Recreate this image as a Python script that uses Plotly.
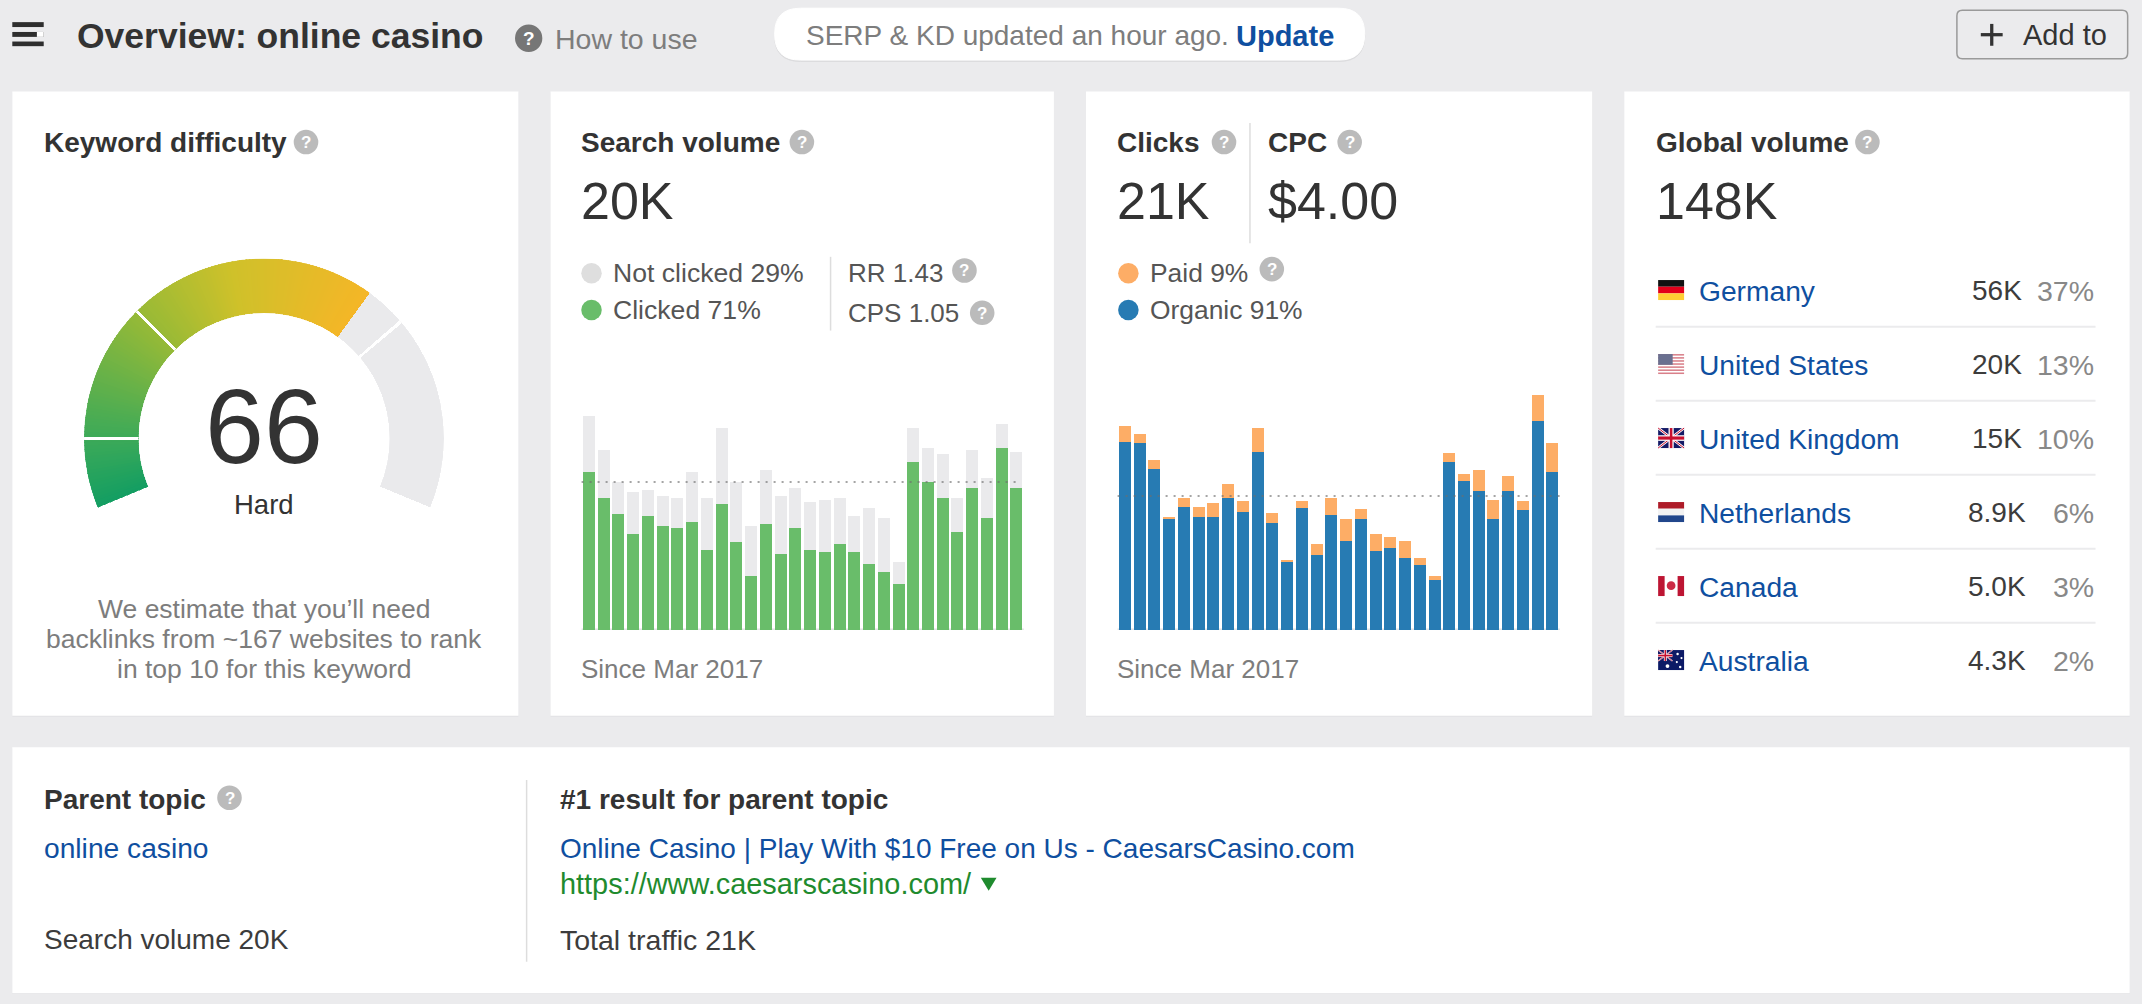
import plotly.graph_objects as go

W, H = 2142, 1004
S = W / 1568.0

# ---------- data ----------
months = ["2017-03","2017-04","2017-05","2017-06","2017-07","2017-08","2017-09","2017-10","2017-11","2017-12",
          "2018-01","2018-02","2018-03","2018-04","2018-05","2018-06","2018-07","2018-08","2018-09","2018-10",
          "2018-11","2018-12","2019-01","2019-02","2019-03","2019-04","2019-05","2019-06","2019-07","2019-08"]
clicked = [21.4,17.8,15.7,13.0,15.4,14.1,13.8,14.6,10.8,17.0,11.9,7.3,14.3,10.3,13.8,10.8,10.5,11.6,10.5,8.9,
           7.8,6.2,22.7,20.0,17.8,13.2,19.2,15.1,24.6,19.2]
not_clicked = [7.5,6.5,4.3,5.6,3.5,4.0,4.0,6.8,7.0,10.3,8.1,6.8,7.3,7.8,5.4,6.5,7.1,6.2,4.9,7.6,
               7.3,3.0,4.6,4.6,6.0,4.6,5.1,5.4,3.2,4.9]
organic = [29.5,29.3,25.2,17.4,19.3,17.7,17.7,20.7,18.5,27.9,16.7,10.7,19.1,11.8,18.0,13.9,17.4,12.4,12.9,11.3,
           10.2,7.8,26.4,23.4,21.8,17.4,21.8,18.8,32.8,24.7]
paid = [2.5,1.4,1.4,0.3,1.4,1.6,2.2,2.2,1.7,3.8,1.6,0.3,1.1,1.7,2.7,3.5,1.6,2.7,1.6,2.7,
        1.1,0.6,1.3,1.0,3.2,3.0,2.4,1.4,4.0,4.6]
avg_volume = 20
avg_clicks = 21
difficulty = 66
gauge_stops = [(0, (20,158,98)), (10, (61,170,88)), (30, (152,186,54)), (45, (207,193,42)), (66, (245,182,39))]
gauge_ticks = [10, 30, 72]
countries = ["Germany","United States","United Kingdom","Netherlands","Canada","Australia"]
country_vol = ["56K","20K","15K","8.9K","5.0K","4.3K"]
country_pct = ["37%","13%","10%","6%","3%","2%"]

DARK, GREY, BLUE = "#333333", "#7d7d7d", "#0f4fa0"
GREEN, LGREY, ORANGE, SBLUE = "#69bd6a", "#eaeaec", "#fdad66", "#277bb3"
FONT = "Liberation Sans"

ann, shp = [], []
def px(v): return v * S / W
def py(v): return 1 - v * S / H

def T(x, y, text, size=28, color=DARK, bold=False, anchor="left"):
    shift = {"left": -2, "right": 2, "center": 0}[anchor]
    ann.append(dict(x=px(x), y=py(y), xref="paper", yref="paper", showarrow=False, xshift=shift,
                    xanchor=anchor, yanchor="middle", align=anchor,
                    text=f"<b>{text}</b>" if bold else text,
                    font=dict(family=FONT, size=size, color=color)))

def rrect(x0, y0, x1, y1, r=0, fill="white", line=None, lw=1):
    a, b, c, d, rx, ry = px(x0), py(y0), px(x1), py(y1), r * S / W, r * S / H
    if r:
        path = (f"M{a+rx},{b} L{c-rx},{b} Q{c},{b} {c},{b-ry} L{c},{d+ry} Q{c},{d} {c-rx},{d} "
                f"L{a+rx},{d} Q{a},{d} {a},{d+ry} L{a},{b-ry} Q{a},{b} {a+rx},{b} Z")
        shp.append(dict(type="path", path=path, xref="paper", yref="paper", fillcolor=fill,
                        line=dict(color=line or fill, width=lw), layer="below"))
    else:
        shp.append(dict(type="rect", x0=a, x1=c, y0=d, y1=b, xref="paper", yref="paper", fillcolor=fill,
                        line=dict(width=0), layer="below"))

def seg(x0, y0, x1, y1, color="#dddddd", w=1.5):
    shp.append(dict(type="line", x0=px(x0), x1=px(x1), y0=py(y0), y1=py(y1), xref="paper", yref="paper",
                    line=dict(color=color, width=w), layer="below"))

def dot(x, y, r, color):
    shp.append(dict(type="circle", x0=px(x-r), x1=px(x+r), y0=py(y+r), y1=py(y-r), xref="paper", yref="paper",
                    fillcolor=color, line=dict(width=0), layer="below"))

def helpdot(x, y, r=9, color="#bbbbbb", size=17):
    dot(x, y, r, color)
    T(x, y + 0.3, "?", size, "white", True, "center")

# ---------- page furniture ----------
for x0, x1 in [(9, 379.5), (403, 771.5), (795, 1165.5), (1189, 1559)]:
    rrect(x0, 67.7, x1, 524.7, fill="#e2e2e4")
    rrect(x0, 67, x1, 524)
rrect(9, 547.7, 1559, 727.7, fill="#e2e2e4")
rrect(9, 547, 1559, 727)

# header
rrect(9, 16.2, 32, 19.8, fill="#2e2e2e")
rrect(9, 23.4, 32, 27, fill="#2e2e2e")
rrect(27, 23.4, 32, 27, fill="#ffffff")
rrect(9, 30.4, 32, 33.8, fill="#2e2e2e")
T(56, 26, "Overview: online casino", 35.5, DARK, True)
helpdot(387, 28, 10, "#767676", 19)
T(406, 28.5, "How to use", 28.5, GREY)
rrect(567, 7, 999, 45, 19, fill="#dcdcde")
rrect(567, 6, 999, 44, 19)
T(590, 26, "SERP &amp; KD updated an hour ago.", 28, GREY)
T(905, 26, "Update", 29, BLUE, True)
rrect(1432.5, 7.5, 1557.5, 43, 4, fill="#ebebed", line="#9a9a9a", lw=1.5)
rrect(1450, 24.2, 1466, 26.6, fill="#333333")
rrect(1456.8, 17.5, 1459.2, 33.5, fill="#333333")
T(1481, 25.5, "Add to", 29, DARK)

# card 1
T(32, 104, "Keyword difficulty", 28, DARK, True)
helpdot(224, 104)
T(193.3, 312, str(difficulty), 106, DARK, False, "center")
T(193.3, 369.5, "Hard", 27.5, DARK, False, "center")
T(193.3, 446, "We estimate that you’ll need", 26.5, GREY, False, "center")
T(193.3, 468, "backlinks from ~167 websites to rank", 26.5, GREY, False, "center")
T(193.3, 490, "in top 10 for this keyword", 26.5, GREY, False, "center")

# card 2
T(425, 104, "Search volume", 28, DARK, True)
helpdot(587, 104)
T(425, 147, "20K", 52)
dot(433, 200, 7.5, "#dedede"); T(449, 200, "Not clicked 29%", 26.6, "#555555")
dot(433, 227, 7.5, GREEN);     T(449, 227, "Clicked 71%", 26.6, "#555555")
seg(608, 188, 608, 242)
T(621, 200, "RR 1.43", 26, "#555555"); helpdot(706, 198)
T(621, 229, "CPS 1.05", 26, "#555555"); helpdot(719, 229)
T(425, 490, "Since Mar 2017", 26, GREY)

# card 3
T(818, 104, "Clicks", 28, DARK, True); helpdot(896, 104)
seg(915, 90, 915, 178)
T(928, 104, "CPC", 28, DARK, True); helpdot(988, 104)
T(818, 147, "21K", 52); T(928, 147, "$4.00", 52)
dot(826, 200, 7.5, ORANGE); T(842, 200, "Paid 9%", 26.4, "#555555"); helpdot(931, 197)
dot(826, 227, 7.5, SBLUE);  T(842, 227, "Organic 91%", 26.4, "#555555")
T(818, 490, "Since Mar 2017", 26, GREY)

# card 4
T(1212, 104, "Global volume", 28, DARK, True); helpdot(1367, 104)
T(1212, 147, "148K", 52)
ROW = 54.17

def frect(i, x0, y0, x1, y1, color):
    """flag-local rect in fractions of flag box"""
    fx, fy, fw, fh = 1213.8, 205 + i * ROW, 19, 14.64
    shp.append(dict(type="rect", x0=px(fx + x0*fw), x1=px(fx + x1*fw), y0=py(fy + y1*fh), y1=py(fy + y0*fh),
                    xref="paper", yref="paper", fillcolor=color, line=dict(width=0), layer="below"))

def fline(i, x0, y0, x1, y1, color, w):
    fx, fy, fw, fh = 1213.8, 205 + i * ROW, 19, 14.64
    shp.append(dict(type="line", x0=px(fx + x0*fw), x1=px(fx + x1*fw), y0=py(fy + y0*fh), y1=py(fy + y1*fh),
                    xref="paper", yref="paper", line=dict(color=color, width=w), layer="below"))

def fdot(i, x, y, r, color):
    fx, fy, fw, fh = 1213.8, 205 + i * ROW, 19, 14.64
    dot(fx + x*fw, fy + y*fh, r, color)

def union(i, xs, ys):
    frect(i, 0, 0, xs, ys, "#141a66")
    for a, b in [(0, 0), (0, ys)]:
        fline(i, 0, a if b == 0 else ys, xs, ys if b == 0 else 0, "white", 2.6 if xs == 1 else 1.4)
        fline(i, 0, a if b == 0 else ys, xs, ys if b == 0 else 0, "#c8102e", 1 if xs == 1 else 0.6)
    frect(i, xs*0.40, 0, xs*0.60, ys, "white")
    frect(i, 0, ys*0.36, xs, ys*0.64, "white")
    frect(i, xs*0.45, 0, xs*0.55, ys, "#c8102e")
    frect(i, 0, ys*0.42, xs, ys*0.58, "#c8102e")

# Germany
frect(0, 0, 0, 1, 1/3, "#111111"); frect(0, 0, 1/3, 1, 2/3, "#e2001a"); frect(0, 0, 2/3, 1, 1, "#ffce33")
# USA
frect(1, 0, 0, 1, 1, "white")
for k in range(0, 13, 2):
    frect(1, 0, k/13, 1, (k+1)/13, "#d9808a")
frect(1, 0, 0, 0.56, 7/13, "#6a7090")
# UK
union(2, 1, 1)
# Netherlands
frect(3, 0, 0, 1, 1/3, "#ae1c28"); frect(3, 0, 1/3, 1, 2/3, "#f2f2f2"); frect(3, 0, 2/3, 1, 1, "#21468b")
# Canada
frect(4, 0, 0, 1, 1, "white"); frect(4, 0, 0, 0.25, 1, "#bd1533"); frect(4, 0.75, 0, 1, 1, "#bd1533")
fdot(4, 0.5, 0.48, 3.2, "#cc2a45")
# Australia
frect(5, 0, 0, 1, 1, "#0c1a66")
union(5, 0.55, 0.55)
for fx_, fy_, r_ in [(0.36, 0.8, 1.4), (0.75, 0.2, 0.9), (0.9, 0.4, 0.8), (0.72, 0.6, 0.8), (0.85, 0.85, 0.9)]:
    fdot(5, fx_, fy_, r_, "white")

for i, (c, v, p) in enumerate(zip(countries, country_vol, country_pct)):
    y = 213 + i * ROW
    T(1244, y, c, 28.2, BLUE)
    T(1461.5, y, v, 28, "#3c3c3c", False, "center")
    T(1533, y, p, 28.5, "#888888", False, "right")
    if i < 5:
        seg(1212, 239.2 + i * ROW, 1534, 239.2 + i * ROW, "#ebebed", 2)

# bottom card
T(32, 585, "Parent topic", 28, DARK, True); helpdot(168, 584)
T(32, 621, "online casino", 28.2, BLUE)
T(32, 688, "Search volume 20K", 28, "#3c3c3c")
seg(385.5, 571, 385.5, 704)
T(410, 585, "#1 result for parent topic", 28, DARK, True)
T(410, 621, "Online Casino | Play With $10 Free on Us - CaesarsCasino.com", 28, BLUE)
T(410, 647, "https://www.caesarscasino.com/", 28.9, "#1f8b2e")
a, b, c, d = px(718), px(729.5), py(642.5), py(652)
shp.append(dict(type="path", path=f"M{a},{c} L{b},{c} L{(a+b)/2},{d} Z", xref="paper", yref="paper",
                fillcolor="#1f8b2e", line=dict(width=0), layer="below"))
T(410, 688, "Total traffic 21K", 28.5, "#3c3c3c")

# ---------- charts ----------
def bars(name, x, y, color, xa, ya):
    return go.Bar(name=name, x=x, y=y, marker=dict(color=color, line=dict(width=0)), xaxis=xa, yaxis=ya,
                  hoverinfo="skip", showlegend=False)

fig = go.Figure()
fig.add_trace(bars("Clicked", months, clicked, GREEN, "x", "y"))
fig.add_trace(bars("Not clicked", months, not_clicked, LGREY, "x", "y"))
fig.add_trace(bars("Organic", months, organic, SBLUE, "x2", "y2"))
fig.add_trace(bars("Paid", months, paid, ORANGE, "x2", "y2"))

for xr, yr, avg in [("x", "y", avg_volume), ("x2", "y2", avg_clicks)]:
    shp.append(dict(type="line", xref=f"{xr} domain", yref=yr, x0=0, x1=0.985 if xr == "x" else 1, y0=avg, y1=avg,
                    line=dict(color="rgba(110,110,110,0.62)", width=2, dash="2px,6px"), layer="above"))
    shp.append(dict(type="line", xref=f"{xr} domain", yref=yr, x0=0, x1=1, y0=0, y1=0,
                    line=dict(color="#e2e2e4", width=3), layer="below"))

# gauge
def grad(v):
    for (p0, c0), (p1, c1) in zip(gauge_stops, gauge_stops[1:]):
        if v <= p1:
            t = (v - p0) / (p1 - p0)
            return "rgb(%d,%d,%d)" % tuple(round(c0[k] + (c1[k] - c0[k]) * t) for k in range(3))
    return "rgb(%d,%d,%d)" % gauge_stops[-1][1]

DEG = 2.25  # degrees of sweep per difficulty point
steps = [i / 2 for i in range(difficulty * 2)]
fig.add_trace(go.Barpolar(r=[1] * len(steps), theta=[(v + 0.25) * DEG for v in steps], width=[0.5 * DEG] * len(steps),
                          marker=dict(color=[grad(v) for v in steps], line=dict(color=[grad(v) for v in steps], width=0.6)),
                          hoverinfo="skip", showlegend=False))
fig.add_trace(go.Barpolar(r=[1], theta=[(difficulty + 100) / 2 * DEG], width=[(100 - difficulty) * DEG],
                          marker=dict(color=LGREY, line=dict(width=0)), hoverinfo="skip", showlegend=False))
fig.add_trace(go.Barpolar(r=[1] * len(gauge_ticks), theta=[t * DEG for t in gauge_ticks], width=[0.5 * DEG] * len(gauge_ticks),
                          marker=dict(color="white", line=dict(width=0)), hoverinfo="skip", showlegend=False))

cx, cy, R, r_in = 264, 438.5, 180, 125.5
axis_off = dict(visible=False, fixedrange=True, showgrid=False, zeroline=False)
def xd(x0, x1): return [x0 / W, x1 / W]
def yd(y0, y1): return [1 - y1 / H, 1 - y0 / H]

fig.update_layout(
    width=W, height=H, autosize=False, margin=dict(l=0, r=0, t=0, b=0),
    paper_bgcolor="#ebebed", plot_bgcolor="rgba(0,0,0,0)",
    barmode="stack", bargap=0.186,
    xaxis=dict(domain=xd(581.6, 1023.8), type="category", range=[-0.5, 29.5], **axis_off),
    yaxis=dict(domain=yd(380, 630), range=[0, 33.78], anchor="x", **axis_off),
    xaxis2=dict(domain=xd(1117.6, 1559.8), type="category", range=[-0.5, 29.5], anchor="y2", **axis_off),
    yaxis2=dict(domain=yd(380, 630), range=[0, 39.18], anchor="x2", **axis_off),
    polar=dict(domain=dict(x=xd(cx - R, cx + R), y=yd(cy - R, cy + R)), hole=r_in / R, bgcolor="rgba(0,0,0,0)",
               barmode="overlay",
               radialaxis=dict(visible=False, range=[0, 1]),
               angularaxis=dict(visible=False, rotation=202.5, direction="clockwise", thetaunit="degrees")),
    annotations=ann, shapes=shp, font=dict(family=FONT),
)

fig.write_html("out.html", config=dict(displayModeBar=False, staticPlot=True),
               post_script="document.body.style.margin='0';document.body.style.overflow='hidden';document.documentElement.style.overflow='hidden';")
